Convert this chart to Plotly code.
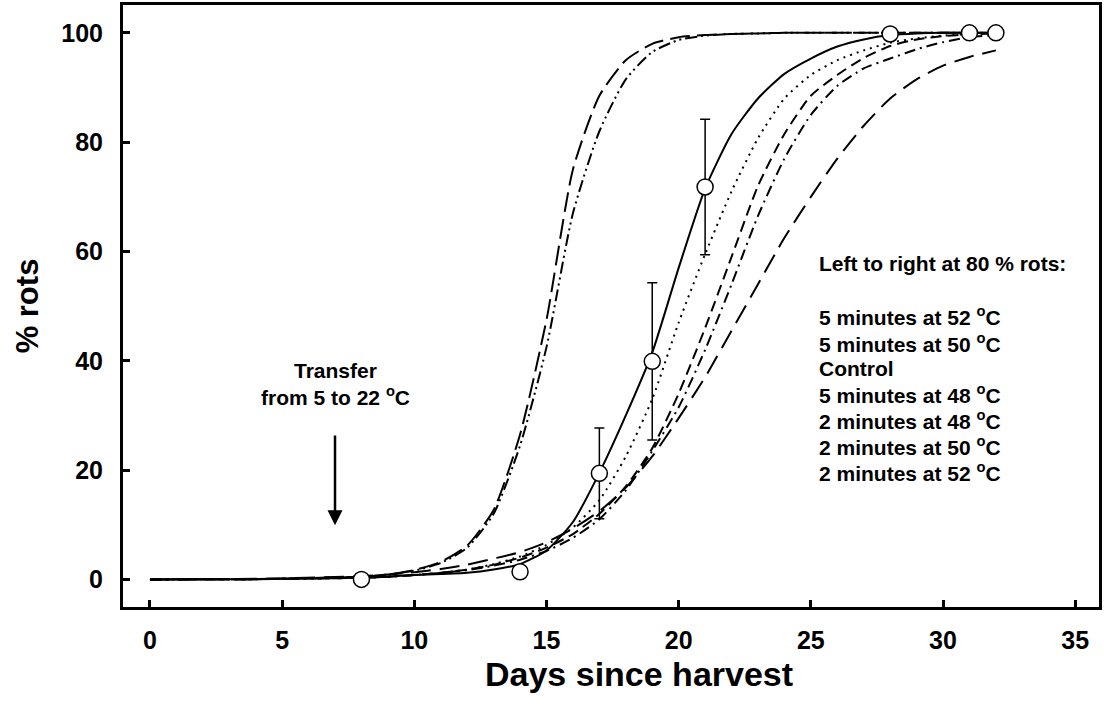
import plotly.graph_objects as go

# ---- data ----
days = [0, 4, 8, 9, 10, 11, 12, 13, 14, 15, 16, 17, 18, 19, 20, 21, 22, 23, 24, 25, 26, 27, 28, 29, 30, 31, 32]

min5_52 = [0, 0.05, 0.5, 0.9, 1.7, 3.2, 6.2, 12.7, 26.5, 47.5, 75, 88.5, 95, 98, 99.2, 99.6, 99.8, 99.9, 100, 100, 100, 100, 100, 100, 100, 100, 100]
min5_50 = [0, 0.05, 0.5, 0.9, 1.6, 3.0, 5.8, 12.0, 24.5, 42.5, 67, 82, 91.5, 96.5, 98.7, 99.5, 99.8, 99.9, 100, 100, 100, 100, 100, 100, 100, 100, 100]
control = [0, 0.05, 0.3, 0.5, 0.8, 1.0, 1.2, 1.8, 2.8, 5.3, 10.5, 19.5, 30, 41.5, 57, 71.5, 81.5, 88, 92.5, 95.3, 97.5, 98.8, 99.6, 99.9, 100, 100, 100]
min5_48 = [0, 0.05, 0.3, 0.5, 0.8, 1.2, 1.8, 2.8, 4.2, 6.3, 9.5, 14.5, 22.5, 33, 47, 59.5, 71, 80.7, 88, 92.3, 95, 96.8, 98.2, 99, 99.5, 99.8, 99.9]
min2_48 = [0, 0.05, 0.3, 0.5, 0.8, 1.2, 1.8, 2.7, 4.0, 5.8, 8.3, 12, 17, 24, 34, 46, 59, 72, 81.5, 88.5, 92.3, 95.4, 97.6, 98.8, 99.4, 99.7, 99.9]
min2_50 = [0, 0.05, 0.3, 0.5, 0.8, 1.2, 1.7, 2.5, 3.6, 5.2, 7.6, 11, 16.3, 23.5, 31.5, 42, 54, 66.5, 77, 85, 90.3, 93.5, 95.3, 97, 98.3, 99.2, 99.6]
min2_52 = [0, 0.1, 0.6, 0.9, 1.3, 1.9, 2.7, 3.8, 5.0, 6.8, 9.3, 12.5, 16.8, 22.5, 29.5, 37, 45.5, 54, 62.5, 70, 77, 83, 88, 91.5, 94, 95.6, 96.8]

obs_days = [8, 14, 17, 19, 21, 28, 31, 32]
obs_rots = [0, 1.4, 19.4, 39.9, 71.8, 99.8, 100, 100]
obs_err = [0, 0, 8.3, 14.4, 12.4, 0, 0, 0]

legend_title = "Left to right at 80 % rots:"
legend_lines = ["5 minutes at 52 <sup>o</sup>C", "5 minutes at 50 <sup>o</sup>C", "Control",
                "5 minutes at 48 <sup>o</sup>C", "2 minutes at 48 <sup>o</sup>C",
                "2 minutes at 50 <sup>o</sup>C", "2 minutes at 52 <sup>o</sup>C"]

x_ticks = [0, 5, 10, 15, 20, 25, 30, 35]
y_ticks = [0, 20, 40, 60, 80, 100]

FONT = "Liberation Sans, Arial, sans-serif"

fig = go.Figure()

curves = [
    (min5_52, "20px,7px"),
    (min5_50, "12px,4px,2px,4px,2px,4px"),
    (control, "solid"),
    (min5_48, "2px,5px"),
    (min2_48, "11px,6px"),
    (min2_50, "11px,5px,2px,5px"),
    (min2_52, "20px,9px"),
]
for ys, dash in curves:
    fig.add_trace(go.Scatter(x=days, y=ys, mode="lines",
                             line=dict(color="black", width=2, dash=dash, shape="spline", smoothing=0.6),
                             hoverinfo="skip", showlegend=False))

fig.add_trace(go.Scatter(
    x=obs_days, y=obs_rots, mode="markers",
    marker=dict(symbol="circle", size=16, color="white", line=dict(color="black", width=1.5)),
    error_y=dict(type="data", array=obs_err, visible=True, color="black", thickness=1.5, width=5),
    showlegend=False))

bold21 = dict(family=FONT, size=21, color="black", weight="bold")
annotations = []
annotations.append(dict(x=25.24, y=57.76, xref="x", yref="y", text=legend_title, showarrow=False,
                        xanchor="left", yanchor="middle", font=bold21))
ys_leg = [48.12, 43.29, 38.65, 33.92, 29.19, 24.46, 19.63]
for t, yy in zip(legend_lines, ys_leg):
    annotations.append(dict(x=25.24, y=yy, xref="x", yref="y", text=t, showarrow=False,
                            xanchor="left", yanchor="middle", font=bold21))

annotations.append(dict(x=7, y=38.3, xref="x", yref="y", text="Transfer", showarrow=False,
                        xanchor="center", yanchor="middle", font=bold21))
annotations.append(dict(x=7, y=33.55, xref="x", yref="y", text="from 5 to 22 <sup>o</sup>C", showarrow=False,
                        xanchor="center", yanchor="middle", font=bold21))
annotations.append(dict(x=7, y=9.9, ax=7, ay=26.6, xref="x", yref="y", axref="x", ayref="y",
                        text="", showarrow=True, arrowhead=2, arrowsize=1.2, arrowwidth=2.5,
                        arrowcolor="black", standoff=0))
# x-axis title
annotations.append(dict(x=0.5286, y=-0.112, xref="paper", yref="paper", text="Days since harvest",
                        showarrow=False, xanchor="center", yanchor="middle",
                        font=dict(family=FONT, size=34, color="black", weight="bold")))

fig.update_layout(
    width=1104, height=713,
    margin=dict(l=123, r=3, t=2, b=106),
    plot_bgcolor="white", paper_bgcolor="white",
    annotations=annotations,
    font=dict(family=FONT, color="black"),
    xaxis=dict(range=[-1.02, 35.9], tickvals=x_ticks, ticks="inside", ticklen=7, tickwidth=2.5,
               tickcolor="black", showline=True, linecolor="black", linewidth=3, mirror=True,
               showgrid=False, zeroline=False, ticklabelstandoff=9,
               tickfont=dict(family=FONT, size=25, color="black", weight="bold")),
    yaxis=dict(range=[-5.05, 105.1], tickvals=y_ticks, ticks="inside", ticklen=7, tickwidth=2.5,
               tickcolor="black", showline=True, linecolor="black", linewidth=3, mirror=True,
               showgrid=False, zeroline=False, ticklabelstandoff=12,
               tickfont=dict(family=FONT, size=25, color="black", weight="bold"),
               title=dict(text="% rots", standoff=14,
                          font=dict(family=FONT, size=31, color="black", weight="bold"))),
)

fig.write_html("out.html")
